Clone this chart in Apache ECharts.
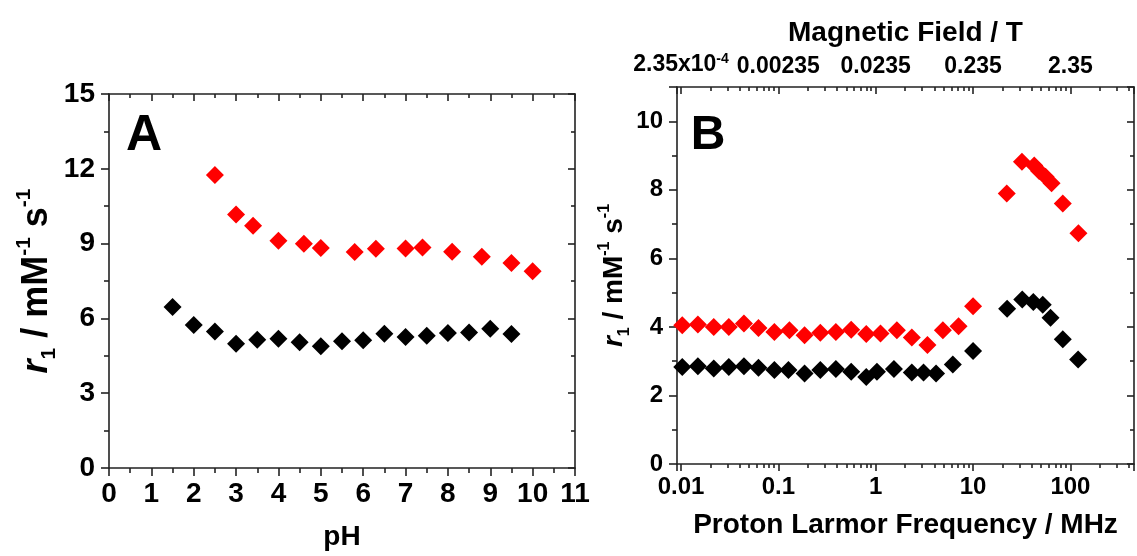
<!DOCTYPE html>
<html lang="en">
<head>
    <meta charset="UTF-8">
    <title>r1 vs pH and NMRD</title>
    <style>
        * {
            margin: 0;
            padding: 0;
        }

        html, body {
            height: 100%;
            width: 100%;
            background: #fff;
        }
    </style>
    <script src="https://cdn.jsdelivr.net/npm/echarts@6/dist/echarts.min.js"></script>
</head>
<body>

<div id="main" style="width: 1137px;height: 556px;"></div>

<script>
    // panel A: r1 vs pH
    var phRed = [2.5, 3, 3.4, 4, 4.6, 5, 5.8, 6.3, 7, 7.4, 8.1, 8.8, 9.5, 10];
    var r1Red = [11.75, 10.17, 9.72, 9.11, 8.99, 8.82, 8.66, 8.79, 8.8, 8.84, 8.67, 8.47, 8.22, 7.89];
    var phBlack = [1.5, 2, 2.5, 3, 3.5, 4, 4.5, 5, 5.5, 6, 6.5, 7, 7.5, 8, 8.5, 9, 9.5];
    var r1Black = [6.46, 5.74, 5.47, 4.98, 5.14, 5.18, 5.04, 4.88, 5.08, 5.12, 5.38, 5.25, 5.30, 5.41, 5.43, 5.58, 5.37];

    // panel B: NMRD profiles
    var freqRed = [0.0103, 0.0149, 0.0217, 0.031, 0.0443, 0.0625, 0.091, 0.13, 0.186, 0.27, 0.39, 0.56, 0.80, 1.12, 1.65, 2.35, 3.4, 4.9, 7.1, 10,
        22.2, 31.8, 42.5, 47.7, 55.6, 64, 83.5, 121];
    var r1FreqRed = [4.05, 4.07, 4.0, 4.0, 4.10, 3.97, 3.85, 3.90, 3.76, 3.83, 3.85, 3.92, 3.79, 3.81, 3.90, 3.69, 3.47, 3.90, 4.02, 4.60,
        7.89, 8.82, 8.71, 8.55, 8.38, 8.19, 7.60, 6.73];
    var freqBlack = [0.0103, 0.0149, 0.0217, 0.031, 0.0443, 0.0625, 0.091, 0.127, 0.186, 0.27, 0.39, 0.56, 0.80, 1.03, 1.54, 2.35, 3.1, 4.17, 6.2, 10,
        22.4, 32, 41.6, 52, 62.5, 83.5, 120];
    var r1FreqBlack = [2.83, 2.85, 2.79, 2.83, 2.85, 2.81, 2.74, 2.74, 2.64, 2.74, 2.77, 2.69, 2.54, 2.69, 2.77, 2.67, 2.67, 2.64, 2.90, 3.30,
        4.53, 4.80, 4.73, 4.65, 4.27, 3.64, 3.05];

    // tick labels of the log axes (one per decade, 0.01 ... 100 MHz)
    var freqLabels = ['0.01', '0.1', '1', '10', '100'];
    var fieldLabels = ['{a|2.35x10}{s|-4}', '0.00235', '0.0235', '0.235', '2.35'];

    var FONT = 'Liberation Sans';
    var freqMin = 0.0091, freqMax = 450;

    // log minor tick positions (2..9 inside each decade)
    var minorLog = [];
    for (var d = -3; d <= 2; d++) {
        for (var k = 2; k <= 9; k++) {
            var v = k * Math.pow(10, d);
            if (v > freqMin && v < freqMax) minorLog.push(Math.log10(v));
        }
    }

    function decadeIndex(val) {
        var l = Math.log10(val);
        var r = Math.round(l);
        if (Math.abs(l - r) > 1e-6) return -1;
        return r + 2;
    }

    var lineStyle = {color: '#222', width: 1.6};
    var axisLine = {onZero: false, lineStyle: lineStyle};
    var labelBase = {color: '#000', fontFamily: FONT, fontWeight: 'bold'};
    var r1Name = '{i|r}{sub|1}{n| / mM}{sup|-1}{n| s}{sup|-1}';
    function r1Rich(size, small, lh) {
        return {
            i: {fontStyle: 'italic', fontWeight: 'bold', fontFamily: FONT, fontSize: size, lineHeight: lh},
            n: {fontWeight: 'bold', fontFamily: FONT, fontSize: size, lineHeight: lh},
            sub: {fontWeight: 'bold', fontFamily: FONT, fontSize: small, verticalAlign: 'bottom', lineHeight: lh},
            sup: {fontWeight: 'bold', fontFamily: FONT, fontSize: small, verticalAlign: 'top', lineHeight: lh}
        };
    }

    var myChart = echarts.init(document.getElementById('main'));

    var option = {
        animation: false,
        backgroundColor: '#fff',
        graphic: [
            {type: 'text', x: 144, y: 136, style: {text: 'A', font: 'bold 50px "Liberation Sans"', fill: '#000', align: 'center', verticalAlign: 'middle'}},
            {type: 'text', x: 708, y: 136, style: {text: 'B', font: 'bold 48px "Liberation Sans"', fill: '#000', align: 'center', verticalAlign: 'middle'}}
        ],
        grid: [
            {left: 109, right: 562, top: 94, bottom: 85},
            {left: 677, right: -3, top: 87, bottom: 92}
        ],
        xAxis: [
            {
                gridIndex: 0, type: 'value', position: 'bottom', min: 0, max: 11, interval: 1,
                name: 'pH', nameLocation: 'middle', nameGap: 55,
                nameTextStyle: {color: '#000', fontFamily: FONT, fontWeight: 'bold', fontSize: 28},
                axisLine: axisLine,
                axisTick: {length: 8, lineStyle: lineStyle},
                minorTick: {show: true, splitNumber: 2, length: 5, lineStyle: lineStyle},
                axisLabel: Object.assign({fontSize: 28, margin: 12}, labelBase),
                splitLine: {show: false}
            },
            {
                gridIndex: 0, type: 'value', position: 'top', min: 0, max: 11, interval: 1,
                axisLine: axisLine,
                axisTick: {inside: true, length: 7, lineStyle: lineStyle},
                minorTick: {show: true, splitNumber: 2, length: 4, lineStyle: lineStyle},
                axisLabel: {show: false},
                splitLine: {show: false}
            },
            {
                gridIndex: 1, type: 'log', logBase: 10, position: 'bottom', min: freqMin, max: freqMax,
                name: 'Proton Larmor Frequency / MHz', nameLocation: 'middle', nameGap: 47,
                nameTextStyle: {color: '#000', fontFamily: FONT, fontWeight: 'bold', fontSize: 28},
                axisLine: axisLine,
                axisTick: {length: 7, lineStyle: lineStyle},
                axisLabel: Object.assign({
                    fontSize: 24, margin: 11,
                    formatter: function (val) {
                        var i = decadeIndex(val);
                        return i >= 0 && i < freqLabels.length ? freqLabels[i] : '';
                    }
                }, labelBase),
                splitLine: {show: false}
            },
            {
                gridIndex: 1, type: 'log', logBase: 10, position: 'top', min: freqMin, max: freqMax,
                name: 'Magnetic Field / T', nameLocation: 'middle', nameGap: 40,
                nameTextStyle: {color: '#000', fontFamily: FONT, fontWeight: 'bold', fontSize: 28},
                axisLine: axisLine,
                axisTick: {inside: true, length: 7, lineStyle: lineStyle},
                axisLabel: Object.assign({
                    fontSize: 23, margin: 9,
                    rich: {
                        a: {fontFamily: FONT, fontWeight: 'bold', fontSize: 23, color: '#000', lineHeight: 26},
                        s: {fontFamily: FONT, fontWeight: 'bold', fontSize: 14, color: '#000', verticalAlign: 'top', lineHeight: 26}
                    },
                    formatter: function (val) {
                        var i = decadeIndex(val);
                        return i >= 0 && i < fieldLabels.length ? fieldLabels[i] : '';
                    }
                }, labelBase),
                splitLine: {show: false}
            },
            // minor log ticks, bottom and top of panel B
            {
                gridIndex: 1, type: 'value', position: 'bottom', min: Math.log10(freqMin), max: Math.log10(freqMax),
                axisLine: {show: false, onZero: false},
                axisTick: {length: 4, customValues: minorLog, lineStyle: lineStyle},
                axisLabel: {show: false},
                splitLine: {show: false}
            },
            {
                gridIndex: 1, type: 'value', position: 'top', min: Math.log10(freqMin), max: Math.log10(freqMax),
                axisLine: {show: false, onZero: false},
                axisTick: {inside: true, length: 4, customValues: minorLog, lineStyle: lineStyle},
                axisLabel: {show: false},
                splitLine: {show: false}
            }
        ],
        yAxis: [
            {
                gridIndex: 0, type: 'value', position: 'left', min: 0, max: 15, interval: 3,
                name: r1Name, nameLocation: 'middle', nameGap: 44, nameRotate: 90,
                nameTextStyle: {color: '#000', fontFamily: FONT, fontWeight: 'bold', fontSize: 36, rich: r1Rich(36, 21, 46)},
                axisLine: axisLine,
                axisTick: {length: 8, lineStyle: lineStyle},
                minorTick: {show: true, splitNumber: 2, length: 5, lineStyle: lineStyle},
                axisLabel: Object.assign({fontSize: 28, margin: 14}, labelBase),
                splitLine: {show: false}
            },
            {
                gridIndex: 0, type: 'value', position: 'right', min: 0, max: 15, interval: 3,
                axisLine: axisLine,
                axisTick: {inside: true, length: 7, lineStyle: lineStyle},
                minorTick: {show: true, splitNumber: 2, length: 4, lineStyle: lineStyle},
                axisLabel: {show: false},
                splitLine: {show: false}
            },
            {
                gridIndex: 1, type: 'value', position: 'left', min: 0, max: 11, interval: 2,
                name: r1Name, nameLocation: 'middle', nameGap: 42, nameRotate: 90,
                nameTextStyle: {color: '#000', fontFamily: FONT, fontWeight: 'bold', fontSize: 28, rich: r1Rich(28, 16, 36)},
                axisLine: axisLine,
                axisTick: {length: 8, lineStyle: lineStyle},
                minorTick: {show: true, splitNumber: 2, length: 5, lineStyle: lineStyle},
                axisLabel: Object.assign({fontSize: 24, margin: 14, showMaxLabel: false}, labelBase),
                splitLine: {show: false}
            },
            {
                gridIndex: 1, type: 'value', position: 'right', min: 0, max: 11, interval: 2,
                axisLine: axisLine,
                axisTick: {inside: true, length: 7, lineStyle: lineStyle},
                minorTick: {show: true, splitNumber: 2, length: 4, lineStyle: lineStyle},
                axisLabel: {show: false},
                splitLine: {show: false}
            }
        ],
        series: [
            {
                name: 'A red', type: 'scatter', xAxisIndex: 0, yAxisIndex: 0,
                symbol: 'diamond', symbolSize: 18, itemStyle: {color: '#ff0000', opacity: 1},
                data: phRed.map(function (x, i) { return [x, r1Red[i]]; })
            },
            {
                name: 'A black', type: 'scatter', xAxisIndex: 0, yAxisIndex: 0,
                symbol: 'diamond', symbolSize: 18, itemStyle: {color: '#000000', opacity: 1},
                data: phBlack.map(function (x, i) { return [x, r1Black[i]]; })
            },
            {
                name: 'B red', type: 'scatter', xAxisIndex: 2, yAxisIndex: 2,
                symbol: 'diamond', symbolSize: 18, itemStyle: {color: '#ff0000', opacity: 1},
                data: freqRed.map(function (x, i) { return [x, r1FreqRed[i]]; })
            },
            {
                name: 'B black', type: 'scatter', xAxisIndex: 2, yAxisIndex: 2,
                symbol: 'diamond', symbolSize: 18, itemStyle: {color: '#000000', opacity: 1},
                data: freqBlack.map(function (x, i) { return [x, r1FreqBlack[i]]; })
            }
        ]
    };
    myChart.setOption(option);
</script>

</body>
</html>
